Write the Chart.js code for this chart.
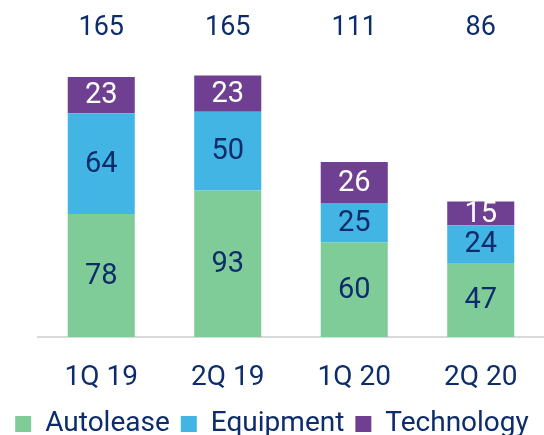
<!DOCTYPE html>
<html>
<head>
<meta charset="utf-8">
<script src="https://cdn.jsdelivr.net/npm/chart.js@4/dist/chart.umd.min.js"></script>
<style>
  html, body { margin: 0; padding: 0; background: #fff; }
  #wrap { width: 544px; height: 435px; position: relative; }
</style>
</head>
<body>
<div id="wrap"><canvas id="barChart"></canvas></div>
<script>
/* quarters and segment values, bottom to top */
var quarters   = ['1Q 19', '2Q 19', '1Q 20', '2Q 20'];
var autolease  = [78, 93, 60, 47];
var equipment  = [64, 50, 25, 24];
var technology = [23, 23, 26, 15];
var totals     = [165, 165, 111, 86];

var C = {
  green:  '#80cc98',
  blue:   '#42b5e4',
  purple: '#6f3f91',
  navy:   '#0d2c6b',
  axis:   '#d9d9d9',
};

var FONT = 'Roboto, "Noto Sans", sans-serif';

/* ── value labels centred in each segment ── */
var segmentLabels = {
  id: 'segmentLabels',
  afterDatasetsDraw: function (chart) {
    var ctx = chart.ctx;
    ctx.save();
    ctx.font = '29px ' + FONT;
    ctx.textAlign = 'center';
    ctx.textBaseline = 'middle';
    chart.data.datasets.forEach(function (ds, i) {
      var meta = chart.getDatasetMeta(i);
      meta.data.forEach(function (bar, j) {
        var p = bar.getProps(['x', 'y', 'base'], true);
        ctx.fillStyle = ds.labelColor;
        ctx.fillText(ds.data[j], p.x, (p.y + p.base) / 2 + 1);
      });
    });
    ctx.restore();
  },
};

new Chart(document.getElementById('barChart'), {
  type: 'bar',
  data: {
    labels: quarters,
    datasets: [
      { label: 'Autolease',  data: autolease,  backgroundColor: C.green,  labelColor: C.navy },
      { label: 'Equipment',  data: equipment,  backgroundColor: C.blue,   labelColor: C.navy },
      { label: 'Technology', data: technology, backgroundColor: C.purple, labelColor: '#ffffff' },
    ],
  },
  options: {
    responsive: true,
    maintainAspectRatio: false,
    animation: false,
    categoryPercentage: 1,
    barPercentage: 0.53,
    layout: { padding: { left: 0, right: 0, top: 3, bottom: -13 } },
    scales: {
      x: {
        stacked: true,
        grid: { display: false, drawTicks: false },
        border: { display: true, color: C.axis, width: 2 },
        ticks: { color: C.navy, padding: 24, font: { family: FONT, size: 28 } },
        afterFit: function (scale) { scale.height = 62; },
      },
      x2: {
        type: 'category',
        position: 'top',
        labels: totals.map(String),
        grid: { display: false, drawTicks: false },
        border: { display: false },
        ticks: { color: C.navy, padding: 8.6, font: { family: FONT, size: 27 } },
      },
      y: {
        stacked: true,
        min: 0,
        max: 180.5,
        grid: { display: false, drawTicks: false },
        border: { display: false },
        ticks: { display: false },
        afterFit: function (scale) { scale.width = 38; },
      },
    },
    plugins: {
      legend: {
        position: 'bottom',
        labels: {
          color: C.navy,
          boxWidth: 16,
          boxHeight: 16,
          padding: 11,
          font: { family: FONT, size: 28 },
        },
      },
      tooltip: { enabled: false },
    },
  },
  plugins: [segmentLabels],
});
</script>
</body>
</html>
